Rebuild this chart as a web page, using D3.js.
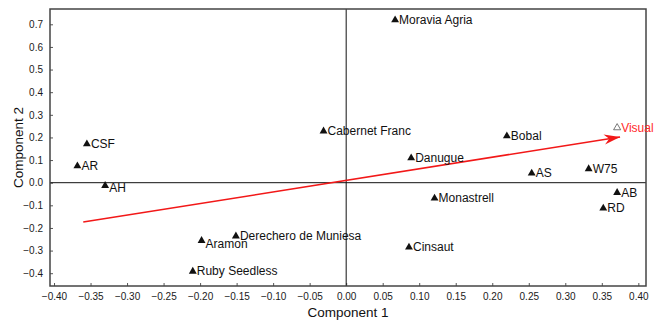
<!DOCTYPE html>
<html>
<head>
<meta charset="utf-8">
<script src="https://cdn.jsdelivr.net/npm/d3@7"></script>
<style>
  html, body { margin: 0; padding: 0; background: #fff; }
  svg { display: block; overflow: visible; font-family: "Liberation Sans", Arial, sans-serif; }
</style>
</head>
<body>
<svg id="chart" width="657" height="323"></svg>
<script>
// Cultivar scores on the first two components
const cultivars = ["Moravia Agria", "Cabernet Franc", "CSF", "AR", "AH", "Bobal", "Danugue",
  "AS", "W75", "AB", "RD", "Monastrell", "Derechero de Muniesa", "Aramon", "Cinsaut", "Ruby Seedless"];
const comp1 = [0.067, -0.031, -0.355, -0.368, -0.330, 0.220, 0.089,
  0.254, 0.332, 0.371, 0.352, 0.121, -0.151, -0.198, 0.086, -0.210];
const comp2 = [0.719, 0.228, 0.171, 0.074, -0.013, 0.206, 0.109,
  0.042, 0.061, -0.044, -0.113, -0.069, -0.236, -0.256, -0.285, -0.392];

// Supplementary variable and its loading vector
const variableName = "Visual";
const variablePoint = [0.371, 0.243];
const vectorStart = [-0.360, -0.174];
const vectorEnd = [0.375, 0.202];

// Axis ticks
const xTicks = [-0.40, -0.35, -0.30, -0.25, -0.20, -0.15, -0.10, -0.05, 0.00, 0.05, 0.10, 0.15, 0.20, 0.25, 0.30, 0.35, 0.40];
const yTicks = [-0.4, -0.3, -0.2, -0.1, 0.0, 0.1, 0.2, 0.3, 0.4, 0.5, 0.6, 0.7];
const xTitle = "Component 1";
const yTitle = "Component 2";

// Small vertical nudges for labels that sit lower than the rest
const labelNudge = { "AH": 2.5, "Aramon": 3 };

const svg = d3.select("#chart");
const plotLeft = 50, plotRight = 646, plotTop = 9, plotBottom = 286;

const x = d3.scaleLinear().domain([-0.4055, 0.4105]).range([plotLeft, plotRight]);
const y = d3.scaleLinear().domain([-0.4565, 0.7676]).range([plotBottom, plotTop]);

// Axes with short inward ticks
const xAxis = d3.axisBottom(x).tickValues(xTicks).tickSizeInner(-3).tickSizeOuter(0)
  .tickPadding(7).tickFormat(d3.format(".2f"));
const yAxis = d3.axisLeft(y).tickValues(yTicks).tickSizeInner(-3).tickSizeOuter(0)
  .tickPadding(7).tickFormat(d3.format(".1f"));

const gx = svg.append("g").attr("transform", `translate(0,${plotBottom})`).call(xAxis);
const gy = svg.append("g").attr("transform", `translate(${plotLeft},0)`).call(yAxis);
[gx, gy].forEach(g => {
  g.select(".domain").remove();
  g.selectAll(".tick line").attr("stroke", "#555");
  g.selectAll(".tick text").attr("fill", "#1a1a1a").style("font-size", "10px")
    .style("font-family", "Liberation Sans, Arial, sans-serif");
});

// Zero reference lines
svg.append("line")
  .attr("x1", plotLeft).attr("x2", plotRight).attr("y1", y(0)).attr("y2", y(0))
  .attr("stroke", "#111").attr("stroke-width", 1);
svg.append("line")
  .attr("x1", x(0)).attr("x2", x(0)).attr("y1", plotTop).attr("y2", plotBottom)
  .attr("stroke", "#111").attr("stroke-width", 1);

// Plot frame
svg.append("rect")
  .attr("x", plotLeft).attr("y", plotTop)
  .attr("width", plotRight - plotLeft).attr("height", plotBottom - plotTop)
  .attr("fill", "none").attr("stroke", "#444").attr("stroke-width", 1.5);

// Axis titles
svg.append("text")
  .attr("x", (plotLeft + plotRight) / 2).attr("y", 317)
  .attr("text-anchor", "middle").attr("fill", "#111")
  .style("font-size", "13.5px")
  .text(xTitle);
svg.append("text")
  .attr("transform", `translate(23,${(plotTop + plotBottom) / 2}) rotate(-90)`)
  .attr("text-anchor", "middle").attr("fill", "#111")
  .style("font-size", "13.5px")
  .text(yTitle);

// Arrow head marker
const defs = svg.append("defs");
defs.append("marker")
  .attr("id", "arrowhead")
  .attr("markerUnits", "userSpaceOnUse")
  .attr("viewBox", "-16 -6 17 12")
  .attr("refX", 0).attr("refY", 0)
  .attr("markerWidth", 17).attr("markerHeight", 12)
  .attr("orient", "auto")
  .append("path")
  .attr("d", "M0,0 L-16,-5 L-11,0 L-16,5 Z")
  .attr("fill", "#f21818");

// Loading vector
svg.append("line")
  .attr("x1", x(vectorStart[0])).attr("y1", y(vectorStart[1]))
  .attr("x2", x(vectorEnd[0])).attr("y2", y(vectorEnd[1]))
  .attr("stroke", "#f21818").attr("stroke-width", 1.6)
  .attr("marker-end", "url(#arrowhead)");

// Cultivar points
const tri = d3.symbol().type(d3.symbolTriangle).size(27);
const pts = cultivars.map((name, i) => ({ name, c1: comp1[i], c2: comp2[i] }));
const g = svg.append("g");
g.selectAll("path.pt").data(pts).join("path")
  .attr("class", "pt")
  .attr("d", tri)
  .attr("transform", d => `translate(${x(d.c1)},${y(d.c2)})`)
  .attr("fill", "#111");
g.selectAll("text.lbl").data(pts).join("text")
  .attr("class", "lbl")
  .attr("x", d => x(d.c1) + 4)
  .attr("y", d => y(d.c2) + 4 + (labelNudge[d.name] || 0))
  .attr("fill", "#111")
  .style("font-size", "12px")
  .text(d => d.name);

// Supplementary variable: hollow marker and red label
svg.append("path")
  .attr("d", d3.symbol().type(d3.symbolTriangle).size(22))
  .attr("transform", `translate(${x(variablePoint[0])},${y(variablePoint[1])})`)
  .attr("fill", "none").attr("stroke", "#555").attr("stroke-width", 0.8);
svg.append("text")
  .attr("x", x(variablePoint[0]) + 4)
  .attr("y", y(variablePoint[1]) + 4)
  .attr("fill", "#ff2a2a")
  .style("font-size", "12px")
  .text(variableName);
</script>
</body>
</html>
